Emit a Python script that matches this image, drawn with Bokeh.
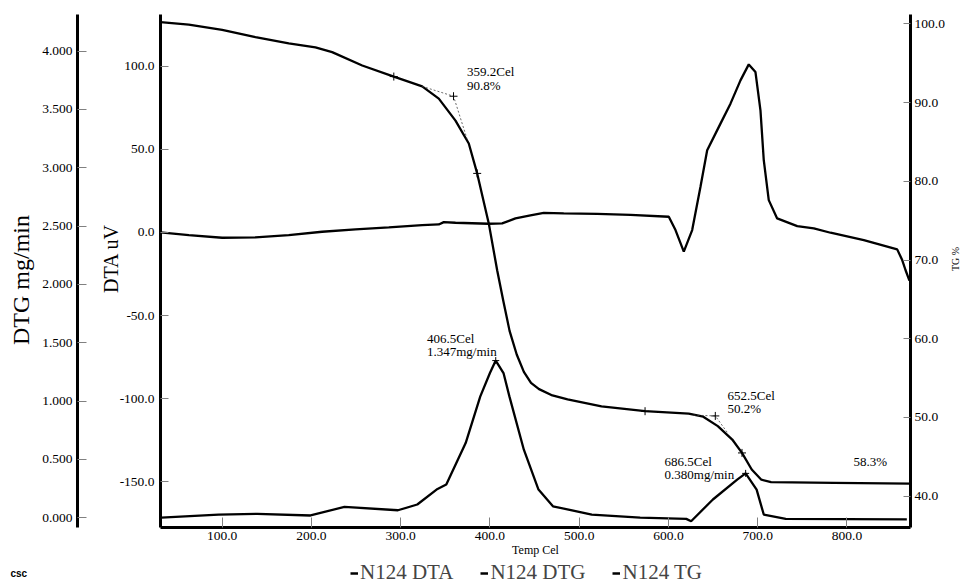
import math
from bokeh.plotting import figure
from bokeh.layouts import column
from bokeh.models import (LinearAxis, Range1d, FixedTicker, PrintfTickFormatter,
                          Legend, LegendItem, Label)
from bokeh.core.properties import value
from bokeh.embed import file_html
from bokeh.resources import INLINE

SERIF = "Liberation Serif"
NB = "\u00a0"

# ---------------- data ----------------
x_ticks = [100, 200, 300, 400, 500, 600, 700, 800]
dta_ticks = [-150, -100, -50, 0, 50, 100]
dtg_ticks = [0.0, 0.5, 1.0, 1.5, 2.0, 2.5, 3.0, 3.5, 4.0]
tg_ticks = [40, 50, 60, 70, 80, 90, 100]

dta_temp = [30.9, 62.6, 100.0, 137.3, 174.6, 212.0, 249.4, 286.7, 324.1, 342.7, 348.3,
            361.4, 398.7, 413.7, 428.6, 445.4, 460.3, 482.7, 520.2, 557.5, 600.4, 607.9,
            617.2, 626.6, 635.9, 643.4, 658.3, 669.5, 680.7, 690.0, 697.5, 703.1, 706.8,
            712.4, 721.8, 744.3, 762.9, 781.6, 818.9, 856.3, 861.9, 865.6, 870.0]
dta_uv = [0.0, -1.6, -3.2, -3.0, -1.6, 0.4, 1.8, 3.0, 4.4, 4.8, 6.2,
          5.8, 5.2, 5.4, 8.4, 10.2, 11.8, 11.4, 11.2, 10.6, 9.4, 1.4,
          -11.6, 1.4, 27.4, 49.4, 65.4, 77.4, 91.4, 101.0, 96.4, 73.4, 43.4,
          19.4, 8.4, 3.8, 2.4, -0.2, -4.6, -10.2, -16.6, -22.6, -29.0]

dtg_temp = [31.8, 95.9, 139.3, 199.0, 237.0, 296.9, 318.6, 340.2, 351.1, 372.8, 389.2,
            400.0, 406.5, 415.2, 421.8, 438.0, 454.4, 470.6, 514.1, 568.3, 620.0, 625.4,
            649.8, 677.0, 686.5, 698.8, 706.8, 731.4, 867.1]
dtg_val = [0.0, 0.027, 0.033, 0.019, 0.093, 0.064, 0.113, 0.241, 0.284, 0.64, 1.04,
           1.24, 1.347, 1.24, 1.04, 0.583, 0.241, 0.098, 0.027, 0.0, -0.01, -0.03,
           0.156, 0.327, 0.380, 0.241, 0.027, -0.01, -0.015]

tg_temp = [30.9, 62.6, 100.0, 137.3, 174.6, 204.5, 223.2, 256.9, 292.3, 324.1, 342.7,
           361.4, 376.3, 385.7, 398.7, 408.1, 415.0, 422.0, 430.0, 438.0, 446.0, 455.0,
           470.0, 487.0, 525.0, 573.8, 622.7, 639.0, 655.3, 671.5, 682.4, 693.3, 704.1,
           715.0, 785.6, 871.0]
tg_pct = [100.2, 99.9, 99.24, 98.3, 97.5, 97.0, 96.4, 94.7, 93.3, 92.05, 90.5,
          87.7, 84.8, 81.0, 74.65, 68.7, 64.8, 61.0, 58.0, 55.8, 54.4, 53.6,
          52.8, 52.3, 51.4, 50.8, 50.5, 50.1, 48.9, 47.2, 45.5, 43.4, 42.1,
          41.8, 41.7, 41.6]

# tangent (onset) constructions on TG
tan1_temp = [324.1, 359.2, 374.3]
tan1_pct = [92.05, 90.8, 85.4]
tan2_temp = [628.0, 652.5, 666.6]
tan2_pct = [50.3, 50.2, 48.0]

tg_mark_temp = [292.3, 359.2, 385.7, 573.8, 652.5, 682.4]
tg_mark_pct = [93.3, 90.8, 81.0, 50.8, 50.2, 45.5]
dtg_peak_temp = [406.5, 686.5]
dtg_peak_val = [1.347, 0.380]

tg_note_temp = [374.4, 374.4, 666.2, 666.2, 807.3]
tg_note_pct = [93.9, 92.2, 52.8, 51.2, 44.4]
tg_note_text = ["359.2Cel", "90.8%", "652.5Cel", "50.2%", "58.3%"]
dtg_note_temp = [329.5, 329.5, 595.6, 595.6]
dtg_note_val = [1.537, 1.422, 0.483, 0.370]
dtg_note_text = ["406.5Cel", "1.347mg/min", "686.5Cel", "0.380mg/min"]

series_names = ["N124 DTA", "N124 DTG", "N124 TG"]

# ---------------- main figure ----------------
p = figure(width=970, height=559, output_backend="svg", toolbar_location=None,
           x_range=Range1d(30.9, 871.2), y_range=Range1d(-177.4, 131.0),
           min_border_left=160, min_border_right=60, min_border_top=14,
           min_border_bottom=31)
p.extra_y_ranges = {"dtg": Range1d(-0.084, 4.314), "tg": Range1d(36.03, 101.18)}
p.outline_line_color = None
p.xgrid.visible = False
p.ygrid.visible = False
p.background_fill_color = "white"
p.border_fill_color = "white"


def style_axis(ax, ticks, fmt, tick_in, standoff, label, label_size, label_standoff):
    ax.ticker = FixedTicker(ticks=ticks)
    ax.formatter = PrintfTickFormatter(format=fmt)
    ax.axis_line_color = "black"
    ax.axis_line_width = 3
    ax.major_tick_in = tick_in
    ax.major_tick_out = 0
    ax.major_tick_line_color = "#808080"
    ax.major_tick_line_width = 1
    ax.minor_tick_line_color = None
    ax.major_label_standoff = standoff
    ax.major_label_text_font = SERIF
    ax.major_label_text_font_size = "13.5px"
    ax.major_label_text_color = "black"
    ax.axis_label = label
    ax.axis_label_text_font = SERIF
    ax.axis_label_text_font_style = "normal"
    ax.axis_label_text_font_size = label_size
    ax.axis_label_text_color = "black"
    ax.axis_label_standoff = label_standoff


# x axis
style_axis(p.xaxis[0], x_ticks, "%.1f", 10, 4, "Temp Cel", "12px", 0)

# DTA axis (primary, next to frame)
style_axis(p.yaxis[0], dta_ticks, "%.1f", 8, 6, "\n" + NB * 5 + "DTA uV", "20px", -5)
p.yaxis[0].axis_label_text_line_height = 0.86

# DTG axis (outer left)
dtg_axis = LinearAxis(y_range_name="dtg")
style_axis(dtg_axis, dtg_ticks, "%.3f", 9, 5, "DTG mg/min" + NB * 3, "24px", 5)
p.add_layout(dtg_axis, "left")

# TG axis (right)
tg_axis = LinearAxis(y_range_name="tg")
style_axis(tg_axis, tg_ticks, "%.1f", 7, 4, "TG %", "10px", 8)
if "axis_label_orientation" in LinearAxis.properties():
    tg_axis.axis_label_orientation = math.pi / 2
p.add_layout(tg_axis, "right")

# ---------------- curves ----------------
p.line(dta_temp, dta_uv, line_color="black", line_width=2.3)
p.line(dtg_temp, dtg_val, line_color="black", line_width=2.3, y_range_name="dtg")
p.line(tg_temp, tg_pct, line_color="black", line_width=2.3, y_range_name="tg")

p.line(tan1_temp, tan1_pct, line_color="#444444", line_width=0.8, line_dash="2 2",
       y_range_name="tg")
p.line(tan2_temp, tan2_pct, line_color="#444444", line_width=0.8, line_dash="2 2",
       y_range_name="tg")
p.scatter(tg_mark_temp, tg_mark_pct, marker="cross", size=8, line_color="black",
          line_width=1, y_range_name="tg")
p.scatter(dtg_peak_temp, dtg_peak_val, marker="cross", size=7, line_color="black",
          line_width=1, y_range_name="dtg")

p.text(x=tg_note_temp, y=tg_note_pct, text=tg_note_text, y_range_name="tg",
       text_font=value(SERIF), text_font_size=value("13px"), text_color="black",
       text_align="left", text_baseline="middle")
p.text(x=dtg_note_temp, y=dtg_note_val, text=dtg_note_text, y_range_name="dtg",
       text_font=value(SERIF), text_font_size=value("13px"), text_color="black",
       text_align="left", text_baseline="middle")

# ---------------- legend strip under the chart ----------------
# its y range lies far above every series value, so the key lines only show
# in the legend itself
leg = figure(width=970, height=26, output_backend="svg", toolbar_location=None,
             x_range=Range1d(0, 1000), y_range=Range1d(1000, 1001),
             x_axis_location=None, y_axis_location=None,
             min_border_left=0, min_border_right=0, min_border_top=0,
             min_border_bottom=0)
leg.grid.visible = False
leg.outline_line_color = None
leg.background_fill_color = "white"
leg.border_fill_color = "white"
if "frame_align" in leg.properties():
    leg.frame_align = False
    p.frame_align = False

k_dta = leg.line(dta_temp, dta_uv, line_color="black", line_width=2.5)
k_dtg = leg.line(dtg_temp, dtg_val, line_color="black", line_width=2.5)
k_tg = leg.line(tg_temp, tg_pct, line_color="black", line_width=2.5)
legend = Legend(items=[LegendItem(label=series_names[0], renderers=[k_dta]),
                       LegendItem(label=series_names[1], renderers=[k_dtg]),
                       LegendItem(label=series_names[2], renderers=[k_tg])],
                orientation="horizontal", location=(350, 0),
                glyph_width=8, glyph_height=18, label_standoff=2, spacing=27,
                padding=0, margin=0, border_line_color=None,
                background_fill_alpha=0,
                label_text_font=SERIF, label_text_font_size="21px")
leg.add_layout(legend)

leg.add_layout(Label(x=10, y=12, x_units="screen", y_units="screen", text="csc",
                     text_font="Liberation Sans", text_font_size="10px",
                     text_font_style="bold", text_baseline="middle",
                     text_color="black"))

layout = column(p, leg, spacing=0)
open("out.html", "w").write(file_html(layout, INLINE))
